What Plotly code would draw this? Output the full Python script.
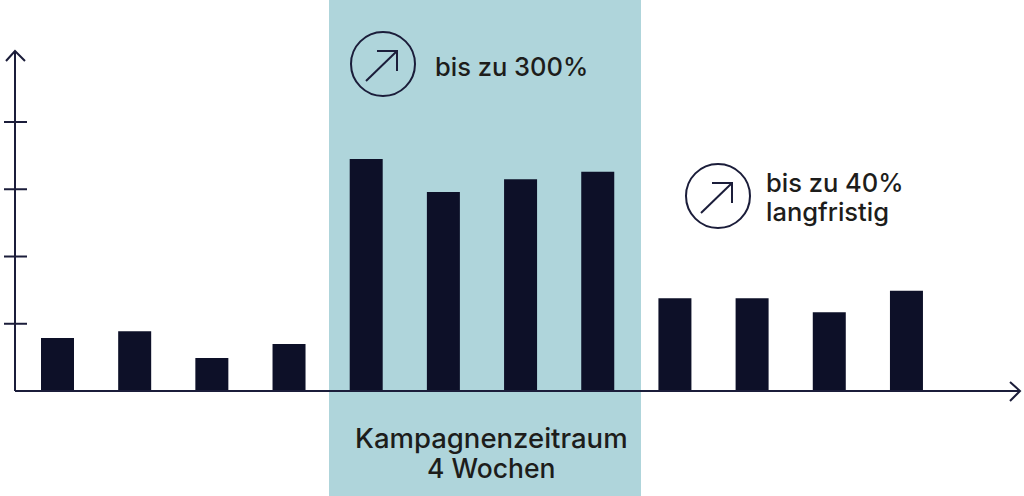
import plotly.graph_objects as go

FIG_W = 1024
FIG_H = 496

weeks = list(range(12))
bar_values = [0.79, 0.89, 0.49, 0.70, 3.45, 2.96, 3.15, 3.26, 1.38, 1.38, 1.17, 1.49]
y_ticks = [1, 2, 3, 4]

BAND = "#AFD5DB"
NAVY = "#0D1028"
LINE = "#1B1D3A"
TEXT = "#1D1D1B"
FONT = "Inter"


def px_x(x):
    return x / FIG_W


def px_y(y):
    return 1 - y / FIG_H


def paper_path(points):
    return "M " + " L ".join(f"{px_x(x):.5f},{px_y(y):.5f}" for x, y in points)


def line_shape(points, width=2):
    return dict(type="path", xref="paper", yref="paper", path=paper_path(points),
                line=dict(color=LINE, width=width))


def up_icon(cx, cy, r=32):
    # circle with an arrow pointing up and to the right
    circle = dict(type="circle", xref="paper", yref="paper",
                  x0=px_x(cx - r), x1=px_x(cx + r), y0=px_y(cy + r), y1=px_y(cy - r),
                  line=dict(color=LINE, width=2))
    shaft = line_shape([(cx - 17, cy + 17), (cx + 14, cy - 13)])
    head = line_shape([(cx - 6, cy - 13), (cx + 14, cy - 13), (cx + 14, cy + 7)])
    return [circle, shaft, head]


def label(text, x, y, anchor="left", size=25.5):
    return dict(text=text, xref="paper", yref="paper", x=px_x(x), y=px_y(y),
                xanchor=anchor, yanchor="middle", showarrow=False,
                font=dict(family=FONT, size=size, color=TEXT, weight=500))


shapes = [dict(type="rect", xref="paper", yref="paper", x0=px_x(329), x1=px_x(641), y0=0, y1=1,
               fillcolor=BAND, line_width=0, layer="below")]

# axes with their arrow heads
shapes.append(line_shape([(15, 391), (15, 51)]))
shapes.append(line_shape([(15, 391), (1019, 391)]))
shapes.append(line_shape([(6, 61), (15, 51), (25, 61)]))
shapes.append(line_shape([(1010, 382), (1020, 391), (1010, 401)]))
for tick in y_ticks:
    shapes.append(dict(type="line", xref="paper", yref="y", x0=px_x(4), x1=px_x(27), y0=tick, y1=tick,
                       line=dict(color=LINE, width=2)))

shapes += up_icon(383, 64)
shapes += up_icon(718, 196)

fig = go.Figure(go.Bar(x=weeks, y=bar_values, width=0.4276, marker=dict(color=NAVY, line_width=0)))

fig.update_layout(
    width=FIG_W,
    height=FIG_H,
    margin=dict(l=0, r=0, t=0, b=0),
    paper_bgcolor="white",
    plot_bgcolor="rgba(0,0,0,0)",
    showlegend=False,
    shapes=shapes,
    annotations=[
        label("bis zu 300%", 433, 66),
        label("bis zu 40%", 764, 182.5),
        label("langfristig", 764, 211),
        label("Kampagnenzeitraum", 491, 438, anchor="center", size=27.5),
        label("4 Wochen", 491, 467.5, anchor="center", size=26.5),
    ],
    xaxis=dict(visible=False, range=[-0.745, 12.523]),
    yaxis=dict(visible=False, range=[-1.561, 5.814]),
)

fig.write_html("out.html", config=dict(displayModeBar=False), post_script="document.body.style.margin='0';")
